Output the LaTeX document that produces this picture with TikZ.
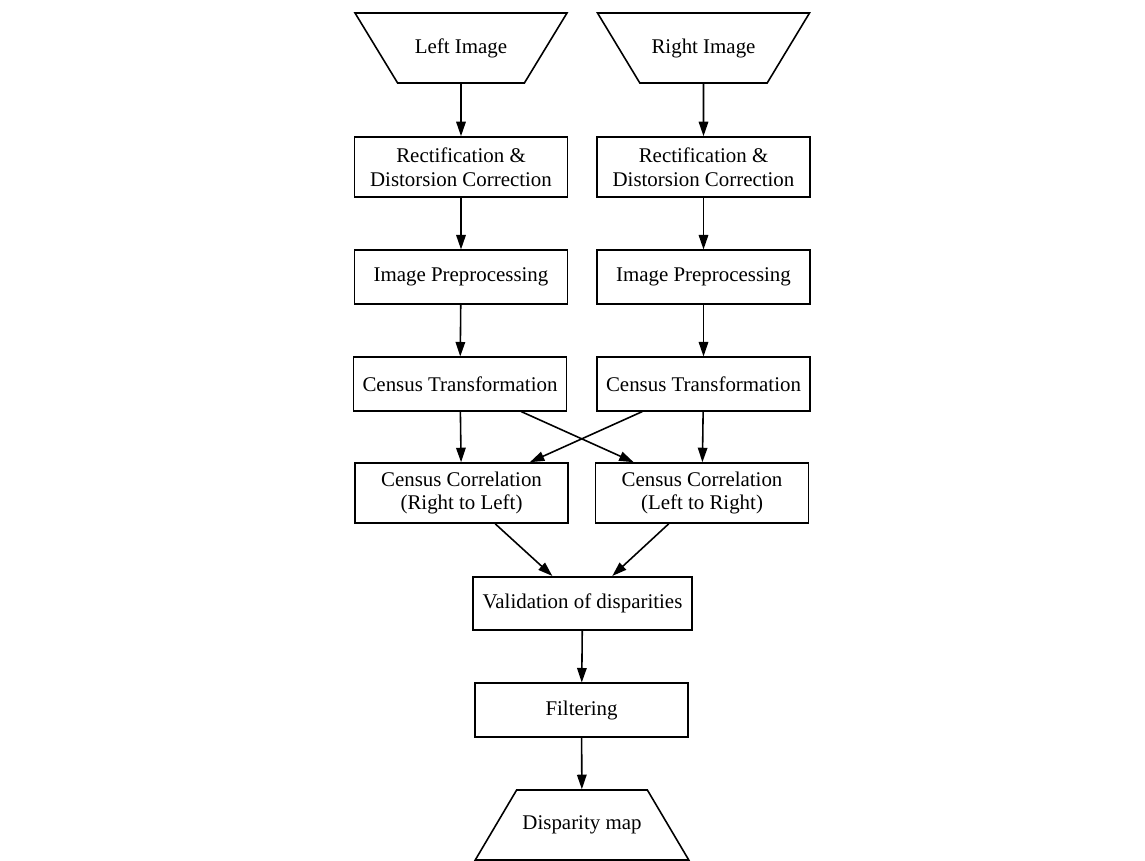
\documentclass[tikz,border=0pt]{standalone}
\usepackage{fontspec}
\setmainfont{Liberation Serif}
\usetikzlibrary{shapes.geometric,arrows.meta}

\begin{document}
\begin{tikzpicture}[x=0.02cm, y=-0.02cm, line width=0.9pt,
    >={Triangle[length=2.9mm, width=1.9mm]},
    every node/.style={font=\fontsize{11.9}{13.6}\selectfont, align=center},
    block/.style={rectangle, draw, minimum width=4.26cm, minimum height=1.07cm},
    block2/.style={rectangle, draw, minimum width=4.26cm, minimum height=1.2cm},
    io/.style={trapezium, draw, trapezium left angle=36, trapezium right angle=36,
      trapezium stretches body, minimum width=4.24cm, minimum height=1.4cm}]
  \useasboundingbox (0, 0) rectangle (1145, 860);
  % Nodes
  \node (left-img) [io, shape border rotate=180] at (461, 48) {Left Image};
  \node (right-img) [io, shape border rotate=180] at (703.5, 48) {Right Image};
  \node (left-rect) [block2] at (461, 167) {Rectification \&\\Distorsion Correction};
  \node (right-rect) [block2] at (703.5, 167) {Rectification \&\\Distorsion Correction};
  \node (left-pre) [block] at (461, 277) {Image Preprocessing};
  \node (right-pre) [block] at (703.5, 277) {Image Preprocessing};
  \node (left-census) [block] at (460, 384) {Census Transformation};
  \node (right-census) [block] at (703.5, 384) {Census Transformation};
  \node (left-corr) [block2] at (461.5, 493) {Census Correlation\\(Right to Left)};
  \node (right-corr) [block2] at (702, 493) {Census Correlation\\(Left to Right)};
  \node (valid) [block, minimum width=4.38cm] at (582.5, 603.5) {Validation of disparities};
  \node (filter) [block] at (581.5, 710) {Filtering};
  \node (disp-map) [io] at (582, 825) {Disparity map};
  % Arrow
  \draw[->] (left-img) -- (left-rect);
  \draw[->] (right-img) -- (right-rect);
  \draw[->] (left-rect) -- (left-pre);
  \draw[->] (right-rect) -- (right-pre);
  \draw[->] (left-pre) -- (left-census);
  \draw[->] (right-pre) -- (right-census);
  \draw[->] (left-census) -- (left-corr);
  \draw[->] (left-census) -- (right-corr);
  \draw[->] (right-census) -- (left-corr);
  \draw[->] (right-census) -- (right-corr);
  \draw[->] (left-corr) -- (valid);
  \draw[->] (right-corr) -- (valid);
  \draw[->] (valid) -- (filter);
  \draw[->] (filter) -- (disp-map);
\end{tikzpicture}
\end{document}
